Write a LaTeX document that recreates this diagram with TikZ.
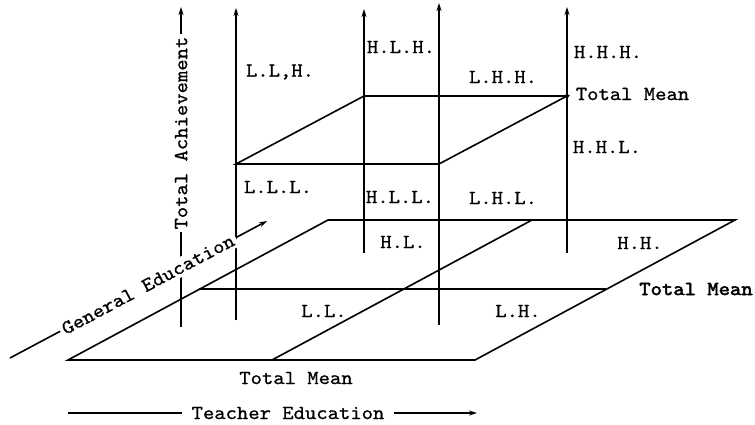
\documentclass[tikz,border=0pt]{standalone}
\usepackage{fontspec}
\setmainfont{lmmono10-regular.otf}[FakeStretch=1.08,FakeBold=0.8]
\newfontfamily\twbold{lmmono10-regular.otf}[FakeStretch=1.08,FakeBold=2.4]
\usetikzlibrary{arrows.meta}
\begin{document}
\begin{tikzpicture}[x=1pt,y=-1pt,line width=1.6pt,
  lbl/.style={font=\fontsize{20}{24}\selectfont,inner sep=1pt},
  axarrow/.style={-{Stealth[length=8pt,width=5pt]}},
  whitelbl/.style={lbl,fill=white,inner sep=3pt}]
\useasboundingbox (0,0) rectangle (755,425);
% base plane
\coordinate (A) at (68,360);
\coordinate (B) at (475,360);
\coordinate (C) at (735,220);
\coordinate (D) at (328,220);
\coordinate (ML) at (199,289);
\coordinate (MR) at (606,289);
\coordinate (MB) at (272,360);
\coordinate (MT) at (532,220);
\draw (A) -- (B) -- (C) -- (D) -- cycle;
\draw (ML) -- (MR);
\draw (MB) -- (MT);
% vertical axes
\coordinate (v1b) at (236,320); \coordinate (v1t) at (236,8);
\coordinate (v2b) at (364,253); \coordinate (v2t) at (364,9);
\coordinate (v3b) at (439,325); \coordinate (v3t) at (439,3);
\coordinate (v4b) at (567,253); \coordinate (v4t) at (567,7);
\coordinate (tab) at (181,327); \coordinate (tat) at (181,7);
\draw[axarrow] (v1b) -- (v1t);
\draw[axarrow] (v2b) -- (v2t);
\draw[axarrow] (v3b) -- (v3t);
\draw[axarrow] (v4b) -- (v4t);
\draw[axarrow] (tab) -- (tat);
% cube top face
\coordinate (FL) at (236,164);
\coordinate (FR) at (439,164);
\coordinate (BR) at (567,96);
\coordinate (BL) at (364,96);
\draw (FL) -- (FR) -- (BR) -- (BL) -- cycle;
\fill (BR) circle (2pt);
% general education axis
\coordinate (ge1) at (10,358);
\coordinate (ge2) at (267,221);
\draw[axarrow] (ge1) -- (ge2);
\path (tab) -- (tat) node[whitelbl,sloped,pos=0.606] (tatext) {Total Achievement};
\path (ge1) -- (ge2) node[whitelbl,sloped,pos=0.537] (getext) {General Education};
% teacher education axis
\node[lbl,inner xsep=9pt] (teach) at (288,413) {Teacher Education};
\coordinate (te1) at (68,413);
\coordinate (te2) at (477,413);
\draw (te1) -- (teach.west);
\draw[axarrow] (teach.east) -- (te2);
% cell labels
\node[lbl] (llh) at (280,72) {L.L,H.};
\node[lbl] (hlh) at (401,47) {H.L.H.};
\node[lbl] (lhh) at (503,77) {L.H.H.};
\node[lbl] (hhh) at (608,52) {H.H.H.};
\node[lbl,anchor=west] (tm1) at (574,94) {Total Mean};
\node[lbl] (hhl) at (607,147) {H.H.L.};
\node[lbl] (lll) at (278,187) {L.L.L.};
\node[lbl] (hll) at (400,197) {H.L.L.};
\node[lbl] (lhl) at (503,198) {L.H.L.};
\node[lbl] (hl) at (403,242) {H.L.};
\node[lbl] (hh) at (640,243) {H.H.};
\node[lbl] (ll) at (324,311) {L.L.};
\node[lbl] (lh) at (518,311) {L.H.};
\node[lbl] (tm2) at (296,378) {Total Mean};
\node[lbl,font=\fontsize{20}{24}\selectfont\twbold] (tm3) at (696,289) {Total Mean};
\end{tikzpicture}
\end{document}
